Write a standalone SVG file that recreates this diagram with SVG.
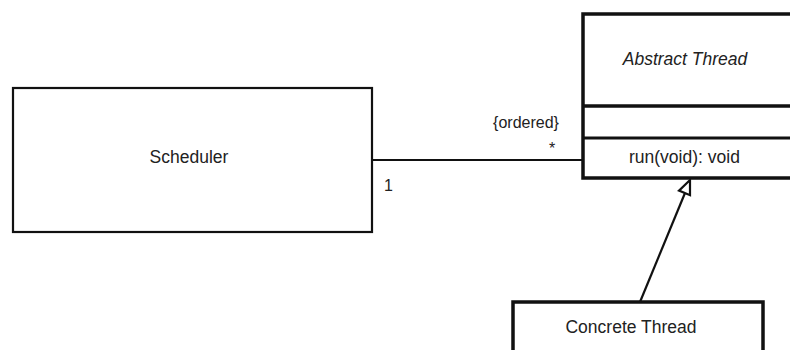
<svg xmlns="http://www.w3.org/2000/svg" width="790" height="350" viewBox="0 0 790 350">
<style>
  .box{fill:#fff;stroke:#111;}
  .thin{stroke-width:2.2;}
  .thick{stroke-width:3.5;}
  text{font-family:"Liberation Sans",Arial,sans-serif;fill:#222;font-size:17.5px;}
  .conn{stroke:#111;stroke-width:2.2;fill:none;}
</style>
<rect width="790" height="350" fill="#fff"/>
<g id="connectors">
  <line class="conn" x1="372" y1="160" x2="583" y2="160"/>
  <line class="conn" x1="640" y1="302" x2="685" y2="193"/>
  <polygon points="690,180 679,190.6 690,195.2" fill="#fff" stroke="#111" stroke-width="2.2" stroke-linejoin="miter"/>
  <text x="526" y="128" text-anchor="middle" style="font-size:16px">{ordered}</text>
  <text x="552" y="154" text-anchor="middle" style="font-size:16px">*</text>
  <text x="384" y="191" style="font-size:16px">1</text>
</g>
<g id="scheduler">
  <rect class="box thin" x="13" y="88" width="359" height="144"/>
  <text x="189" y="163" text-anchor="middle">Scheduler</text>
</g>
<g id="abstract-thread">
  <rect class="box thick" x="583" y="14" width="240" height="164"/>
  <line stroke="#111" stroke-width="3.5" x1="583" y1="106" x2="790" y2="106"/>
  <line stroke="#111" stroke-width="3" x1="583" y1="138" x2="790" y2="138"/>
  <text x="685" y="65" text-anchor="middle" font-style="italic">Abstract Thread</text>
  <text x="629" y="163">run(void): void</text>
</g>
<g id="concrete-thread">
  <rect class="box thick" x="513" y="302" width="250" height="80"/>
  <text x="631" y="333" text-anchor="middle">Concrete Thread</text>
</g>
</svg>
